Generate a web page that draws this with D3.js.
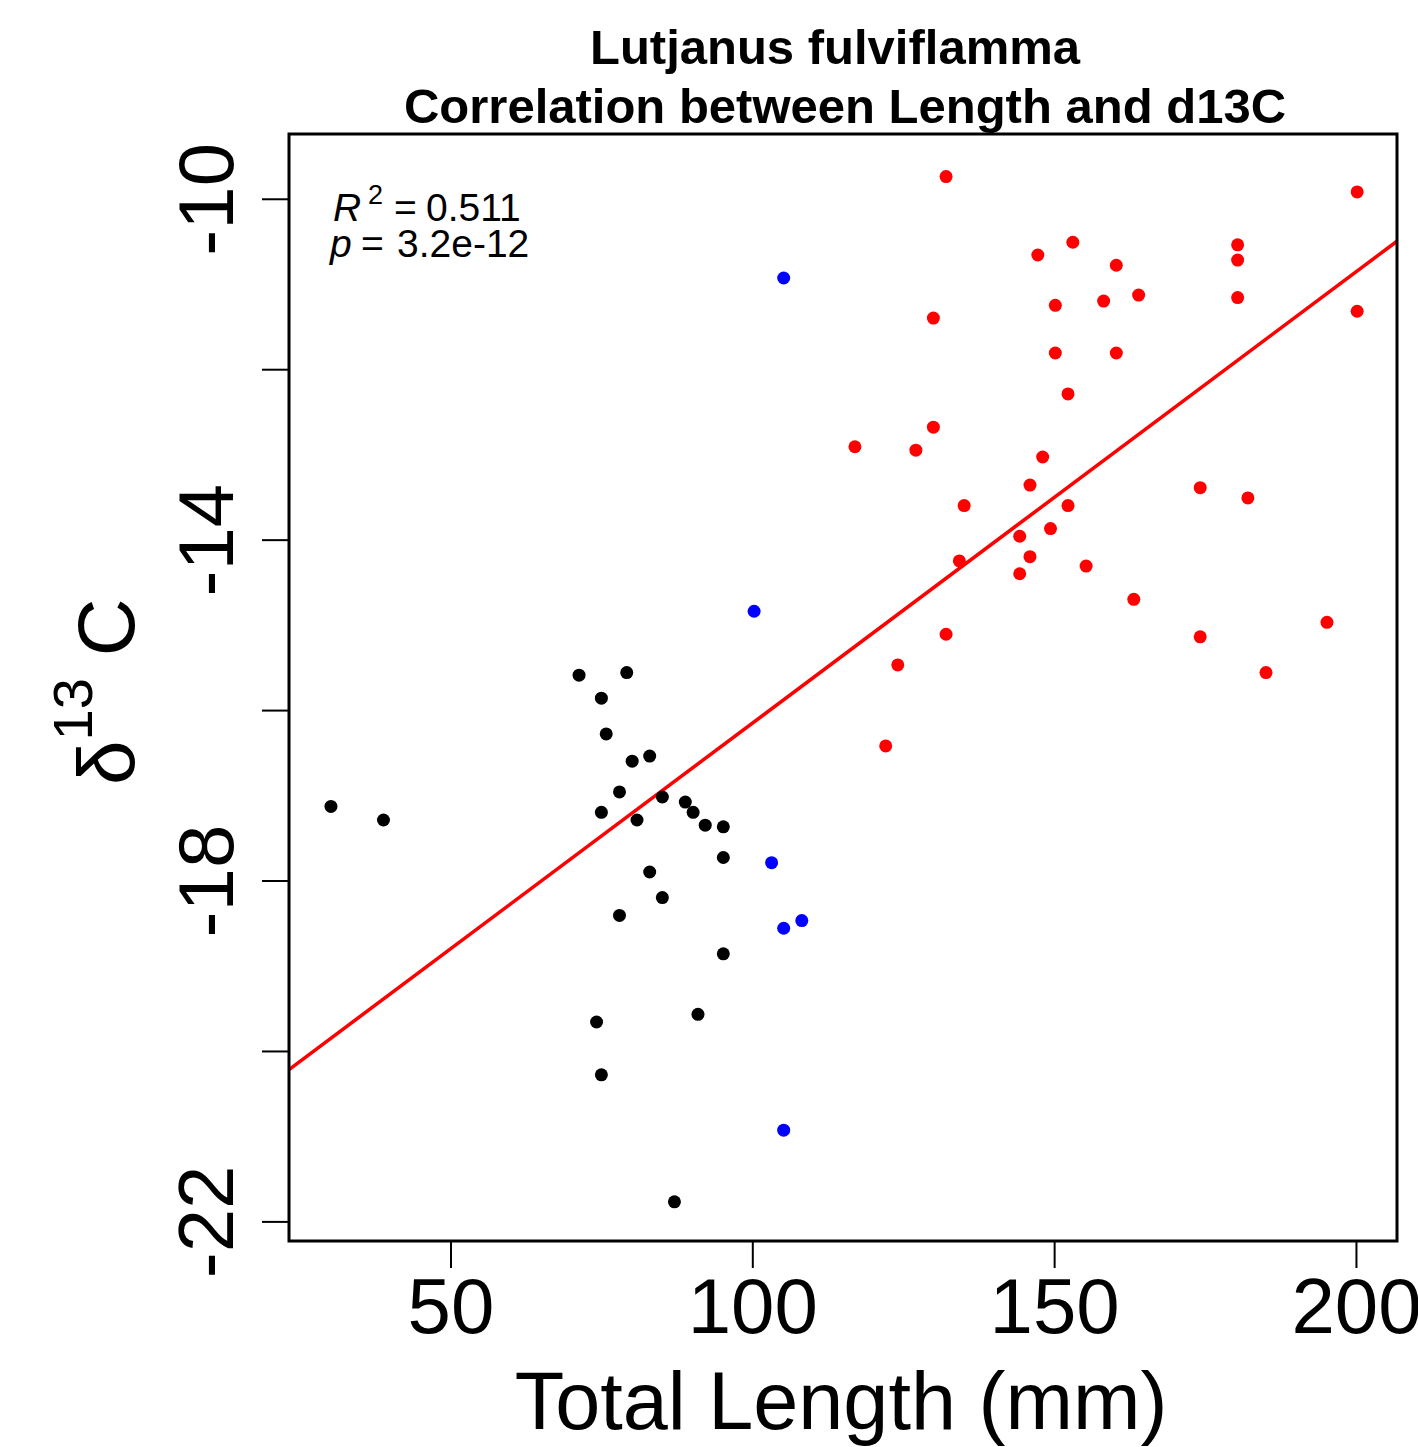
<!DOCTYPE html>
<html>
<head>
<meta charset="utf-8">
<script src="https://cdn.jsdelivr.net/npm/d3@7"></script>
<style>
  body { margin: 0; background: #fff; }
  svg { display: block; font-family: "Liberation Sans", Arial, sans-serif; }
</style>
</head>
<body>
<svg width="1418" height="1447"></svg>
<script>
// black group (small fish)
const blackLength = [30.2, 38.9, 71.3, 79.2, 75.0, 75.8, 80.1, 83.0, 78.0, 75.0, 80.9, 85.1, 88.9, 90.2, 92.2, 95.2, 95.2, 83.0, 85.1, 78.0, 95.2, 74.2, 91.0, 75.0, 87.1];
const blackD13C = [-17.13, -17.29, -15.59, -15.56, -15.86, -16.28, -16.60, -16.54, -16.96, -17.20, -17.29, -17.02, -17.08, -17.20, -17.35, -17.37, -17.73, -17.90, -18.20, -18.41, -18.86, -19.66, -19.57, -20.28, -21.77];

// blue group
const blueLength = [105.2, 100.3, 103.2, 105.2, 108.2, 105.2];
const blueD13C = [-10.93, -14.84, -17.79, -18.56, -18.47, -20.93];

// red group (large fish)
const redLength = [132.1, 200.2, 153.1, 147.3, 180.4, 180.4, 160.3, 150.2, 158.2, 164.0, 180.4, 130.0, 200.2, 150.2, 160.3, 152.3, 130.0, 117.0, 127.1, 148.1, 146.0, 174.2, 182.1, 135.1, 152.3, 149.4, 144.3, 134.3, 146.0, 144.3, 155.3, 163.2, 195.2, 174.2, 132.1, 124.1, 185.1, 122.1];
const redD13C = [-9.74, -9.92, -10.51, -10.66, -10.54, -10.72, -10.78, -11.25, -11.20, -11.13, -11.16, -11.40, -11.32, -11.81, -11.81, -12.29, -12.68, -12.91, -12.95, -13.03, -13.36, -13.39, -13.51, -13.60, -13.60, -13.87, -13.96, -14.25, -14.20, -14.40, -14.31, -14.70, -14.97, -15.14, -15.11, -15.47, -15.56, -16.42];

// ticks
const xTicks = [50, 100, 150, 200];
const yTicks = [-22, -20, -18, -16, -14, -12, -10];
const yTickLabels = [-22, -18, -14, -10];

// lm fit
const fitIntercept = -21.45;
const fitSlope = 0.05296;
const r2Text = "0.511";
const pText = "3.2e-12";

const titleLines = ["Lutjanus fulviflamma", "Correlation between Length and d13C"];
const xLabel = "Total Length (mm)";

function buildPlot(){
    const svg = d3.select("svg");
    const box = { left: 289, right: 1397, top: 134, bottom: 1241 };

    const x = d3.scaleLinear().domain([23.25, 206.8]).range([box.left, box.right]);
    const y = d3.scaleLinear().domain([-22.23, -9.24]).range([box.bottom, box.top]);

    // title
    svg.append("g").selectAll("text")
        .data(titleLines)
        .join("text")
        .attr("x", (d, i) => i == 0 ? 835 : 845)
        .attr("y", (d, i) => 64 + i * 59)
        .attr("text-anchor", "middle")
        .style("font-size", "49px")
        .style("font-weight", "bold")
        .text(d => d);

    // clip for the fit line
    svg.append("clipPath").attr("id", "plotclip")
      .append("rect")
        .attr("x", box.left).attr("y", box.top)
        .attr("width", box.right - box.left).attr("height", box.bottom - box.top);

    const fitLine = d3.line()
        .x(d => x(d))
        .y(d => y(fitIntercept + fitSlope * d));

    svg.append("path")
        .attr("clip-path", "url(#plotclip)")
        .attr("fill", "none")
        .attr("stroke", "#ff0000")
        .attr("stroke-width", 3.5)
        .attr("d", fitLine(x.domain()));

    const groups = [
        { len: blackLength, d13c: blackD13C, color: "#000000" },
        { len: blueLength, d13c: blueD13C, color: "#0000ff" },
        { len: redLength, d13c: redD13C, color: "#ff0000" }
    ];
    groups.forEach(g => {
        svg.append("g").selectAll("circle")
            .data(d3.range(g.len.length))
            .join("circle")
            .attr("cx", i => x(g.len[i]))
            .attr("cy", i => y(g.d13c[i]))
            .attr("r", 6.5)
            .attr("fill", g.color);
    });

    // x axis
    const xAxis = d3.axisBottom(x)
        .tickValues(xTicks)
        .tickSize(27)
        .tickPadding(8);
    const gx = svg.append("g")
        .attr("transform", `translate(0,${box.bottom})`)
        .call(xAxis);
    gx.select(".domain").remove();
    gx.selectAll(".tick line").attr("stroke", "#000").attr("stroke-width", 2);
    gx.selectAll(".tick text")
        .attr("y", 92).attr("dy", 0)
        .attr("fill", "#000")
        .style("font-size", "78px")
        .style("font-family", "'Liberation Sans', Arial, sans-serif");

    // y axis, labels rotated like base R
    const yAxis = d3.axisLeft(y)
        .tickValues(yTicks)
        .tickSize(27)
        .tickFormat(d => yTickLabels.includes(d) ? d : "");
    const gy = svg.append("g")
        .attr("transform", `translate(${box.left},0)`)
        .call(yAxis);
    gy.select(".domain").remove();
    gy.selectAll(".tick line").attr("stroke", "#000").attr("stroke-width", 2);
    gy.selectAll(".tick text")
        .attr("transform", "rotate(-90)")
        .attr("x", 0).attr("y", -56).attr("dy", 0)
        .attr("text-anchor", "middle")
        .attr("fill", "#000")
        .style("font-size", "78px")
        .style("font-family", "'Liberation Sans', Arial, sans-serif");

    // box
    svg.append("rect")
        .attr("x", box.left).attr("y", box.top)
        .attr("width", box.right - box.left).attr("height", box.bottom - box.top)
        .attr("fill", "none")
        .attr("stroke", "#000")
        .attr("stroke-width", 3);

    // x label
    svg.append("text")
        .attr("x", 841)
        .attr("y", 1429)
        .attr("text-anchor", "middle")
        .style("font-size", "81px")
        .text(xLabel);

    // y label: delta^13 C
    const yl = svg.append("text")
        .attr("transform", "translate(134,785) rotate(-90)")
        .style("font-size", "80px");
    yl.append("tspan").text("\u03b4");
    yl.append("tspan").attr("dy", -42).style("font-size", "56px").text("13");
    yl.append("tspan").attr("dy", 42).attr("dx", 22).text("C");

    // R^2 and p annotation
    const ann = svg.append("g").style("font-size", "39px");
    const l1 = ann.append("text").attr("y", 221);
    l1.append("tspan").attr("x", 333).style("font-style", "italic").text("R");
    l1.append("tspan").attr("x", 368).attr("dy", -17).style("font-size", "27px").text("2");
    l1.append("tspan").attr("x", 394).attr("dy", 17).text("=");
    l1.append("tspan").attr("x", 426).text(r2Text);
    const l2 = ann.append("text").attr("y", 257);
    l2.append("tspan").attr("x", 330).style("font-style", "italic").text("p");
    l2.append("tspan").attr("x", 361).text("=");
    l2.append("tspan").attr("x", 397).text(pText);
}
buildPlot();
</script>
</body>
</html>
